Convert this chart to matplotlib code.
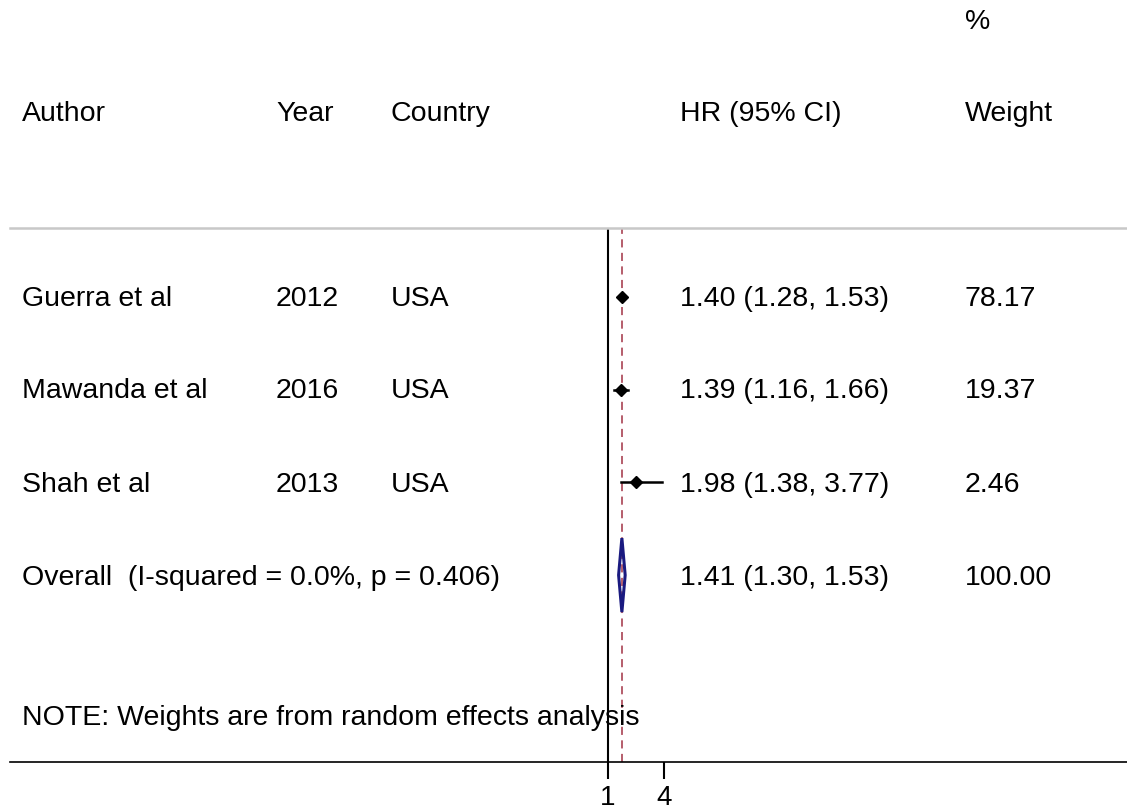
import matplotlib
matplotlib.use("Agg")
import matplotlib.pyplot as plt
from matplotlib.patches import Polygon
import numpy as np

plt.rcParams['font.family'] = ['Liberation Sans', 'DejaVu Sans']

authors = ["Guerra et al", "Mawanda et al", "Shah et al"]
years = ["2012", "2016", "2013"]
countries = ["USA", "USA", "USA"]
hr = [1.40, 1.39, 1.98]
lo = [1.28, 1.16, 1.38]
hi = [1.53, 1.66, 3.77]
weights = ["78.17", "19.37", "2.46"]
overall_label = "Overall  (I-squared = 0.0%, p = 0.406)"
overall_hr, overall_lo, overall_hi = 1.41, 1.30, 1.53
overall_weight = "100.00"
note = "NOTE: Weights are from random effects analysis"
xticks = [1, 4]

W, H = 1127, 811
fig = plt.figure(figsize=(W / 100, H / 100), dpi=100)

# axes spans from px x=10..1127, y=228..762
ax = fig.add_axes([10 / W, 1 - 762 / H, (W - 10) / W, (762 - 228) / H])
ax.set_xscale('log')
# x=1 at px 608, x=4 at px 664
k = np.log(4) / 56.0
xmin = np.exp((10 - 608) * k)
xmax = np.exp((W - 608) * k)
ax.set_xlim(xmin, xmax)
row_h = 92.7
ax.set_ylim((762 - 297) / row_h, (228 - 297) / row_h)

for s in ['left', 'right']:
    ax.spines[s].set_visible(False)
ax.spines['top'].set_color('#c8c8c8')
ax.spines['top'].set_linewidth(1.8)
ax.spines['bottom'].set_color('black')
ax.spines['bottom'].set_linewidth(1.2)
ax.set_yticks([])
ax.set_xticks(xticks)
ax.set_xticklabels([str(t) for t in xticks])
ax.xaxis.set_minor_locator(matplotlib.ticker.NullLocator())
ax.tick_params(axis='x', length=12, width=1.5, labelsize=20, pad=4.5)

# null line and overall line
ax.axvline(1, color='black', lw=1.5, zorder=2)
ax.axvline(overall_hr, color='#b05060', lw=1.3, ls=(0, (4.5, 3)), zorder=1)

for i in range(len(hr)):
    ax.plot([lo[i], hi[i]], [i, i], color='black', lw=1.8, zorder=3)
    ax.plot(hr[i], i, marker='D', color='black', markersize=6, zorder=4)

yo = len(hr)
dh = 37 / row_h
diamond = Polygon([[overall_lo, yo], [overall_hr, yo - dh], [overall_hi, yo],
                   [overall_hr, yo + dh]], closed=True, facecolor='none',
                  edgecolor='#1a1a80', lw=2.2, zorder=5)
ax.add_patch(diamond)

fs = 20.5
def ftext(x, y, s):
    fig.text(x / W, 1 - y / H, s, fontsize=fs, ha='left', va='center', color='black')

ftext(965, 22, "%")
ftext(22, 114, "Author")
ftext(276, 114, "Year")
ftext(391, 114, "Country")
ftext(680, 114, "HR (95% CI)")
ftext(965, 114, "Weight")

row_px = [299, 391, 485]
for i in range(len(hr)):
    y = row_px[i]
    ftext(22, y, authors[i])
    ftext(276, y, years[i])
    ftext(391, y, countries[i])
    ftext(680, y, f"{hr[i]:.2f} ({lo[i]:.2f}, {hi[i]:.2f})")
    ftext(965, y, weights[i])

ftext(22, 578, overall_label)
ftext(680, 578, f"{overall_hr:.2f} ({overall_lo:.2f}, {overall_hi:.2f})")
ftext(965, 578, overall_weight)
ftext(22, 718, note)

fig.savefig("out.png", dpi=100, facecolor='white')
